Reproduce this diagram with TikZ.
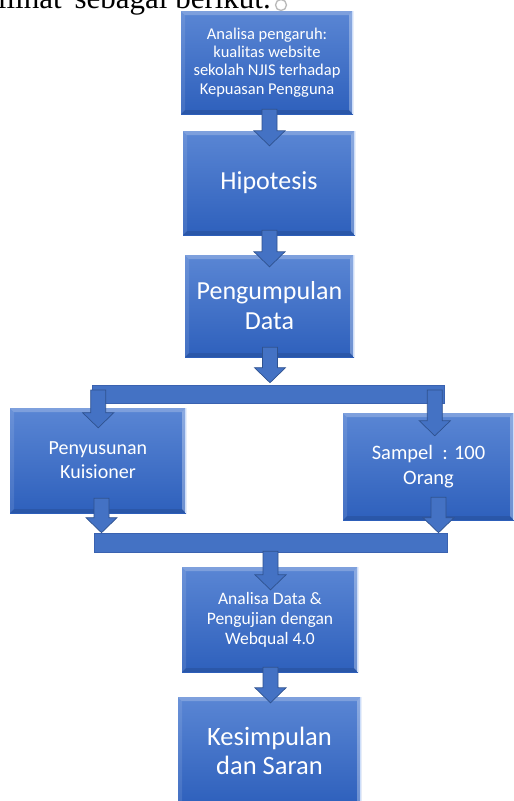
\documentclass[tikz,border=0pt]{standalone}
\usepackage{fontspec}
\setmainfont{Carlito}
\newfontfamily\docserif{Liberation Serif}
\usetikzlibrary{calc}
\definecolor{boxtop}{RGB}{90,134,212}
\definecolor{boxbot}{RGB}{46,96,188}
\definecolor{arrfill}{HTML}{4472C4}
\definecolor{arrline}{HTML}{2F528F}
\definecolor{barline}{RGB}{58,98,176}
\definecolor{bevRline}{RGB}{205,222,250}
\tikzset{
  flowbox/.style={rectangle, inner sep=0pt, align=center, text=white,
    top color=boxtop, bottom color=boxbot, draw=none,
    path picture={
      \coordinate (pnw) at (path picture bounding box.north west);
      \coordinate (pne) at (path picture bounding box.north east);
      \coordinate (psw) at (path picture bounding box.south west);
      \coordinate (pse) at (path picture bounding box.south east);
      \fill[white, opacity=0.22] (pnw) -- (pne) -- ([shift={(-4pt,-4pt)}]pne) -- ([shift={(4pt,-4pt)}]pnw) -- cycle;
      \fill[white, opacity=0.10] (pnw) -- ([shift={(4pt,-4pt)}]pnw) -- ([shift={(4pt,4pt)}]psw) -- (psw) -- cycle;
      \fill[white, opacity=0.30] (pne) -- (pse) -- ([shift={(-4pt,4pt)}]pse) -- ([shift={(-4pt,-4pt)}]pne) -- cycle;
      \fill[black, opacity=0.10] (psw) -- (pse) -- ([shift={(-4pt,4pt)}]pse) -- ([shift={(4pt,4pt)}]psw) -- cycle;
      \draw[bevRline, line width=1.5pt] ([xshift=-0.75pt]pne) -- ([xshift=-0.75pt]pse);
    }},
  hbar/.style={rectangle, inner sep=0pt, fill=arrfill, draw=barline, line width=0.6pt},
  blockarr/.style={fill=arrfill, draw=arrline, line width=0.7pt, line join=miter},
}
% #1 = start point of the shaft, #2 = point giving the tip's height
\newcommand\blockarrow[2]{%
  \draw[blockarr] let \p1=(#1), \p2=(#2) in
    (\x1-7.5pt,\y1) -- (\x1+7.5pt,\y1) -- (\x1+7.5pt,\y2+15pt) -- (\x1+15.5pt,\y2+15pt)
    -- (\x1,\y2) -- (\x1-15.5pt,\y2+15pt) -- (\x1-7.5pt,\y2+15pt) -- cycle;}

\begin{document}
\begin{tikzpicture}[x=1pt,y=-1pt]
\clip (0,0) rectangle (514,801);
\fill[white] (0,0) rectangle (514,801);

\node[anchor=base east, inner sep=0pt, font=\docserif\fontsize{31}{31}\selectfont] (toptext) at (271,8) {dilihat\, sebagai berikut.};
\node[circle, draw=gray!55, fill=white, line width=1.3pt, minimum size=11pt, inner sep=0pt] (handle) at (281,5) {};

% boxes
\node[flowbox, minimum width=172pt, minimum height=103pt, font=\fontsize{16.5}{18.3}\selectfont] (b1) at (267,62.5)
  {Analisa pengaruh:\\kualitas website\\sekolah NJIS terhadap\\Kepuasan Pengguna};
\node[flowbox, minimum width=172pt, minimum height=104pt, font=\fontsize{26}{30}\selectfont] (b2) at (269,183) {Hipotesis};
\node[flowbox, minimum width=169pt, minimum height=102pt, font=\fontsize{26}{30}\selectfont] (b3) at (269.5,306) {Pengumpulan\\Data};
\node[flowbox, minimum width=176pt, minimum height=105pt, font=\fontsize{20}{24}\selectfont] (b4) at (98,460.5) {Penyusunan\\Kuisioner};
\node[flowbox, minimum width=171pt, minimum height=107pt, font=\fontsize{20.5}{25}\selectfont] (b5) at (428.5,466.5) {Sampel~~: 100\\Orang};
\node[flowbox, minimum width=176pt, minimum height=105pt, font=\fontsize{17.5}{20}\selectfont] (b6) at (270,619.5) {Analisa Data \&\\Pengujian dengan\\Webqual 4.0};
\node[flowbox, minimum width=183pt, minimum height=108pt, font=\fontsize{26.5}{29}\selectfont] (b7) at (269.5,751) {Kesimpulan\\dan Saran};

% bars
\node[hbar, minimum width=352pt, minimum height=18pt] (bar1) at (268,394) {};
\node[hbar, minimum width=353pt, minimum height=19pt] (bar2) at (270.5,542.5) {};

% block arrows
\blockarrow{$(b1.south)+(2.5,-5)$}{$(b2.north)+(0,15)$}
\blockarrow{$(b2.south)+(0.5,-5)$}{$(b3.north)+(0,12)$}
\blockarrow{$(b3.south)+(0.5,-10)$}{$(bar1.north)+(0,-2)$}
\blockarrow{$(bar1.west)+(6.5,-4)$}{$(b4.north)+(0,20)$}
\blockarrow{$(bar1.east)+(-9.5,-4)$}{$(b5.north)+(0,23)$}
\blockarrow{$(b4.south)+(3.5,-15)$}{bar2.north}
\blockarrow{$(b5.south)+(10,-23)$}{bar2.north}
\blockarrow{$(bar2.south)+(0,-1)$}{$(b6.north)+(0,23)$}
\blockarrow{$(b6.south)+(0.5,-5)$}{$(b7.north)+(0,6)$}
\end{tikzpicture}
\end{document}
